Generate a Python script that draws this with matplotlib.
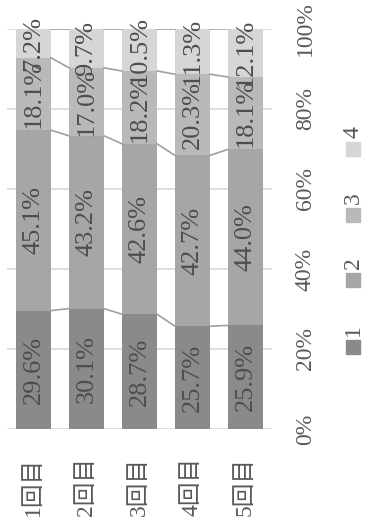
import matplotlib
matplotlib.use("Agg")
import matplotlib.pyplot as plt
from matplotlib.patches import Rectangle
import numpy as np

plt.rcParams['font.family'] = ['Liberation Serif', 'Noto Sans CJK JP', 'DejaVu Sans']

categories = ["1回目", "2回目", "3回目", "4回目", "5回目"]
series_names = ["1", "2", "3", "4"]
s1 = [29.6, 30.1, 28.7, 25.7, 25.9]
s2 = [45.1, 43.2, 42.6, 42.7, 44.0]
s3 = [18.1, 17.0, 18.2, 20.3, 18.1]
s4 = [7.2, 9.7, 10.5, 11.3, 12.1]
series = [s1, s2, s3, s4]
colors = ["#8a8a8a", "#a6a6a6", "#b9b9b9", "#d6d6d6"]
yticks = [0, 20, 40, 60, 80, 100]

W, H = 369, 528
fig = plt.figure(figsize=(W / 100, H / 100), dpi=100)
ax = fig.add_axes([7 / W, 1 - 429 / H, (272 - 7) / W, 400 / H])

x = np.arange(len(categories))
width = 0.66
fs = 17
fs_val = 19
bottom = np.zeros(len(categories))
for vals, col in zip(series, colors):
    vals = np.array(vals)
    ax.bar(x, vals, width, bottom=bottom, color=col, zorder=2)
    for xi, b, v in zip(x, bottom, vals):
        ax.text(xi, b + v / 2, f"{v:.1f}%", rotation=90, ha="center", va="center",
                fontsize=fs_val, color="#4d4d4d", zorder=4)
    bottom = bottom + vals
    # series lines joining the segment tops of neighbouring bars
    for i in range(len(categories) - 1):
        ax.plot([x[i] + width / 2, x[i + 1] - width / 2], [bottom[i], bottom[i + 1]],
                color="#a0a0a0", lw=1.2, zorder=3)

ax.set_xlim(-0.5, len(categories) - 0.5)
ax.set_ylim(0, 100)
ax.set_yticks(yticks)
ax.yaxis.tick_right()
ax.set_yticklabels([f"{t}%" for t in yticks], rotation=90, va="center", ha="left",
                   fontsize=fs, color="#595959")
ax.tick_params(axis="y", length=0, pad=16.5)
ax.set_xticks(x)
ax.set_xticklabels(categories, rotation=90, va="top", ha="center",
                   fontsize=fs, color="#595959")
ax.tick_params(axis="x", length=0, pad=20)
ax.grid(axis="y", color="#d9d9d9", lw=1.2, zorder=0)
for sp in ax.spines.values():
    sp.set_visible(False)

# legend drawn as rotated entries
sq_tops = [340, 273, 208, 142]
for name, col, top in zip(series_names, colors, sq_tops):
    fig.patches.append(Rectangle((346 / W, 1 - (top + 14) / H), 14 / W, 14 / H,
                                 transform=fig.transFigure, color=col, figure=fig))
    fig.text(353 / W, 1 - (top - 10) / H, name, rotation=90, ha="center", va="center",
             fontsize=fs, color="#595959")

fig.savefig("out.png", dpi=100)
